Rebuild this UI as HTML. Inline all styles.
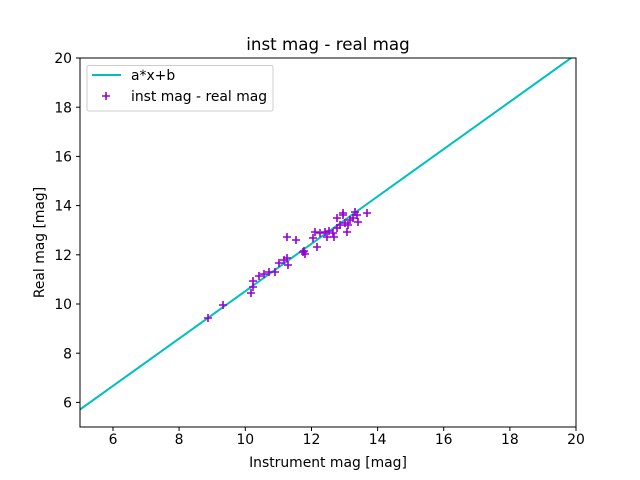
<!DOCTYPE html>
<html><head><style>body{margin:0;background:#fff}svg{display:block}text{font-family:"DejaVu Sans","Liberation Sans",sans-serif;fill:#000}</style></head>
<body>
<svg width="640" height="480" viewBox="0 0 640 480" xmlns="http://www.w3.org/2000/svg">
<defs><clipPath id="c"><rect x="80" y="58" width="496" height="369"/></clipPath>
<path id="p" d="M-4,0H4M0,-4V4" stroke="#9400d3" stroke-width="1.6"/></defs>
<line x1="80" y1="409.5" x2="571" y2="58" stroke="#00bfbf" stroke-width="2" clip-path="url(#c)"/>
<g>
<use href="#p" x="208" y="318"/><use href="#p" x="223" y="305"/><use href="#p" x="251" y="293"/>
<use href="#p" x="253" y="287"/><use href="#p" x="253" y="281"/><use href="#p" x="259" y="276"/>
<use href="#p" x="264" y="274"/><use href="#p" x="269" y="272"/><use href="#p" x="275" y="272"/>
<use href="#p" x="279" y="263"/><use href="#p" x="284" y="260"/><use href="#p" x="287" y="258"/>
<use href="#p" x="288" y="265"/><use href="#p" x="287" y="237"/><use href="#p" x="296" y="240"/>
<use href="#p" x="303" y="252"/><use href="#p" x="305" y="254"/><use href="#p" x="304" y="251"/>
<use href="#p" x="317" y="247"/><use href="#p" x="315" y="232"/><use href="#p" x="313" y="238"/>
<use href="#p" x="320" y="233"/><use href="#p" x="325" y="232"/><use href="#p" x="327" y="237"/>
<use href="#p" x="333" y="233"/><use href="#p" x="334" y="237"/><use href="#p" x="337" y="228"/>
<use href="#p" x="337" y="218"/><use href="#p" x="343" y="215"/><use href="#p" x="343" y="213"/>
<use href="#p" x="345" y="223"/><use href="#p" x="347" y="232"/><use href="#p" x="348" y="225"/>
<use href="#p" x="353" y="218"/><use href="#p" x="357" y="215"/><use href="#p" x="358" y="222"/>
<use href="#p" x="367" y="213"/><use href="#p" x="350" y="220"/><use href="#p" x="355" y="212"/>
<use href="#p" x="340" y="225"/><use href="#p" x="329" y="231"/>
</g>
<rect x="80" y="58" width="496" height="369" fill="none" stroke="#000" stroke-width="1"/>
<g stroke="#000">
<line x1="113" y1="427" x2="113" y2="431"/><line x1="179.1" y1="427" x2="179.1" y2="431"/><line x1="245.3" y1="427" x2="245.3" y2="431"/><line x1="311.5" y1="427" x2="311.5" y2="431"/><line x1="377.6" y1="427" x2="377.6" y2="431"/><line x1="443.7" y1="427" x2="443.7" y2="431"/><line x1="509.9" y1="427" x2="509.9" y2="431"/><line x1="576" y1="427" x2="576" y2="431"/>
<line x1="76" y1="402.4" x2="80" y2="402.4"/><line x1="76" y1="353.2" x2="80" y2="353.2"/><line x1="76" y1="304" x2="80" y2="304"/><line x1="76" y1="254.8" x2="80" y2="254.8"/><line x1="76" y1="205.6" x2="80" y2="205.6"/><line x1="76" y1="156.4" x2="80" y2="156.4"/><line x1="76" y1="107.2" x2="80" y2="107.2"/><line x1="76" y1="58" x2="80" y2="58"/>
</g>
<g font-size="13.9" text-anchor="middle">
<text x="113" y="444">6</text><text x="179.1" y="444">8</text><text x="245.3" y="444">10</text><text x="311.5" y="444">12</text><text x="377.6" y="444">14</text><text x="443.7" y="444">16</text><text x="509.9" y="444">18</text><text x="576" y="444">20</text>
</g>
<g font-size="13.9" text-anchor="end">
<text x="72" y="407.5">6</text><text x="72" y="358.3">8</text><text x="72" y="309.1">10</text><text x="72" y="259.9">12</text><text x="72" y="210.7">14</text><text x="72" y="161.5">16</text><text x="72" y="112.3">18</text><text x="72" y="63.1">20</text>
</g>
<text x="328" y="467" font-size="13.9" text-anchor="middle">Instrument mag [mag]</text>
<text transform="translate(44,242.5) rotate(-90)" font-size="13.9" text-anchor="middle">Real mag [mag]</text>
<text x="328" y="50" font-size="16.7" text-anchor="middle">inst mag - real mag</text>
<rect x="87" y="65.5" width="186" height="45.5" rx="2" fill="#fff" fill-opacity="0.8" stroke="#ccc"/>
<line x1="92" y1="75" x2="121" y2="75" stroke="#00bfbf" stroke-width="2"/>
<use href="#p" x="106" y="96"/>
<text x="131" y="80" font-size="13.9">a*x+b</text>
<text x="131" y="101" font-size="13.9">inst mag - real mag</text>
</svg>
</body></html>
